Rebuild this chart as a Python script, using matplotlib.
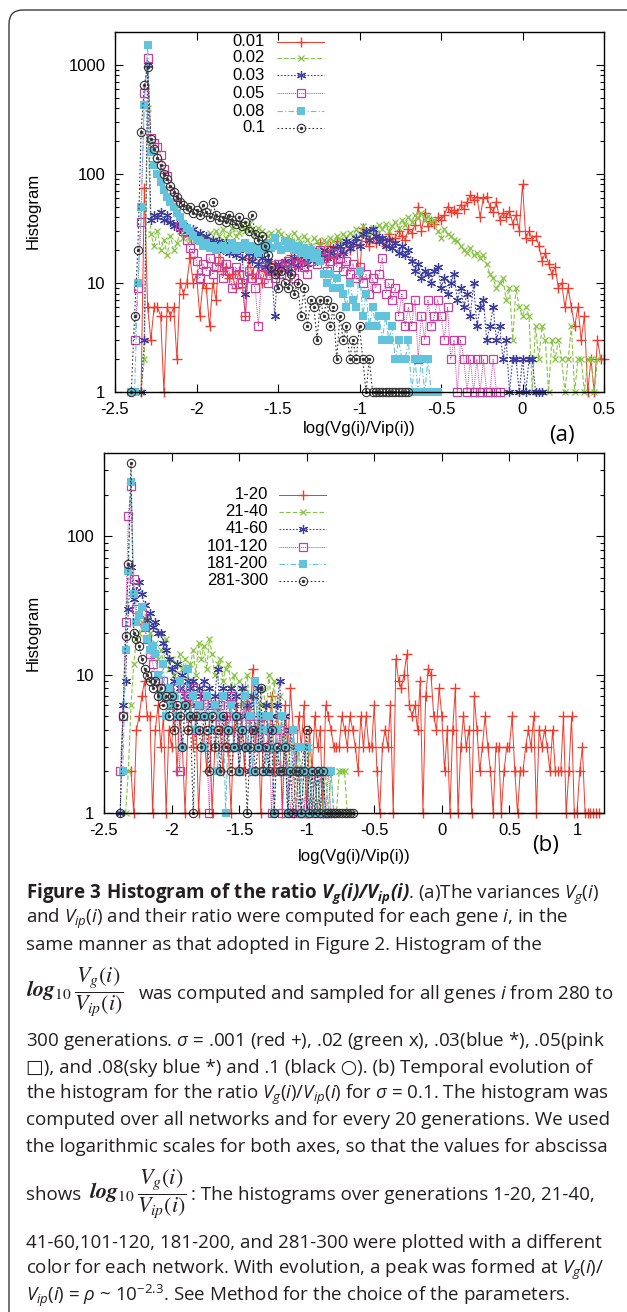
import numpy as np
import matplotlib.pyplot as plt
from matplotlib.patches import FancyBboxPatch
from matplotlib.ticker import LogLocator, NullFormatter

plt.rcParams.update({
    "font.family": ["Open Sans", "DejaVu Sans"],
    "mathtext.fontset": "custom",
    "mathtext.rm": "Open Sans",
    "mathtext.it": "Open Sans:italic",
    "mathtext.bf": "Open Sans:bold",
    "mathtext.bfit": "Open Sans:italic:bold",
    "axes.linewidth": 1.0,
})

W, H = 627, 1312
STEP = 0.02          # histogram bin width in log10 units
TXT = "#231f20"

# ---- panel (a): sigma values, last 20 generations ----
A_LABELS = ["0.01", "0.02", "0.03", "0.05", "0.08", "0.1"]
A_X0 = [-2.34, -2.34, -2.34, -2.38, -2.40, -2.40]
a_001 = [1, 75, 6, 3, 6, 6, 5, 1, 6, 5, 6, 2, 10, 8, 10, 17, 10, 12, 5, 10, 9, 4, 10, 7, 20,
         13, 14, 11, 12, 9, 13, 10, 5, 17, 12, 11, 14, 10, 13, 16, 12, 15, 13, 14, 16, 13, 18,
         15, 17, 20, 16, 18, 21, 17, 19, 23, 18, 20, 22, 17, 24, 21, 19, 23, 20, 22, 25, 11, 32,
         24, 22, 26, 23, 27, 25, 22, 28, 24, 26, 30, 27, 25, 31, 29, 34, 50, 30, 44, 33, 37, 35,
         40, 38, 42, 50, 45, 47, 44, 52, 48, 55, 64, 58, 62, 40, 60, 62, 50, 45, 55, 38, 44, 40,
         46, 35, 42, 30, 80, 26, 30, 25, 27, 22, 16, 19, 15, 12, 14, 9, 10, 6, 9, 6, 4, 6, 3, 5,
         1, 2, 1, 3, 2, 2]
a_002 = [1, 2, 400, 28, 22, 30, 20, 25, 18, 27, 20, 23, 30, 26, 28, 24, 27, 25, 28, 24, 26, 29,
         25, 30, 27, 31, 26, 28, 32, 27, 29, 33, 30, 35, 31, 28, 32, 30, 28, 27, 29, 26, 30, 28,
         25, 27, 24, 29, 26, 23, 27, 25, 22, 26, 24, 22, 25, 23, 26, 24, 27, 25, 28, 26, 29, 27,
         31, 28, 33, 30, 27, 32, 29, 34, 31, 35, 30, 33, 36, 32, 38, 34, 40, 36, 42, 39, 44, 38,
         41, 36, 38, 30, 26, 31, 28, 27, 25, 24, 22, 20, 19, 21, 18, 19, 17, 18, 15, 12, 11, 9,
         10, 11, 7, 9, 3, 9, 6, 5, 6, 5, 1, 4, 2, 4, 3, 1, 3, 2, 3, 2, 1, 2, 4, 1, 2, 2, 1, 2,
         2, 1, 2]
a_003 = [1, 3, 1000, 38, 42, 40, 45, 38, 42, 36, 33, 35, 31, 34, 30, 28, 31, 27, 29, 25, 27, 23,
         25, 22, 24, 20, 23, 19, 21, 18, 20, 17, 8, 19, 16, 18, 15, 17, 14, 16, 13, 5, 15, 14,
         16, 13, 15, 17, 14, 16, 18, 15, 17, 19, 16, 18, 20, 17, 19, 21, 18, 22, 19, 24, 21, 23,
         26, 22, 28, 30, 25, 31, 27, 24, 26, 22, 25, 21, 23, 19, 22, 18, 20, 16, 13, 15, 11, 13,
         12, 10, 13, 14, 9, 11, 8, 10, 12, 7, 9, 6, 8, 5, 10, 4, 6, 7, 3, 4, 6, 3, 4, 2, 3, 1,
         2, 2, 1, 2, 1, 2, 2, 1, 1, 1]
a_005 = [3, 9, 36, 550, 1150, 215, 190, 178, 150, 110, 95, 70, 62, 54, 33, 30, 25, 21, 19, 16,
         11, 15, 13, 17, 12, 14, 16, 11, 15, 13, 9, 14, 12, 10, 5, 13, 11, 9, 4, 12, 14, 10, 13,
         11, 15, 12, 14, 16, 13, 11, 15, 17, 14, 12, 16, 18, 15, 20, 17, 13, 16, 19, 14, 17, 13,
         16, 12, 15, 11, 14, 10, 12, 8, 11, 9, 12, 17, 8, 10, 7, 9, 5, 8, 4, 6, 4, 7, 2, 5, 3, 7,
         4, 5, 7, 5, 3, 6, 2, 3, 1, 3, 2, 1, 2, 1, 2, 1, 2, 1, 1, 2, 1, 1]
a_008 = [1, 1, 10, 50, 430, 1520, 160, 120, 100, 85, 71, 62, 55, 50, 44, 40, 35, 32, 30, 27, 25,
         24, 22, 23, 21, 22, 20, 21, 22, 20, 21, 23, 20, 22, 21, 23, 20, 22, 21, 19, 22, 20, 23,
         21, 26, 22, 20, 24, 21, 23, 20, 22, 19, 21, 18, 20, 17, 19, 16, 12, 10, 12, 9, 11, 9, 8,
         6, 10, 7, 6, 13, 5, 8, 4, 6, 4, 5, 3, 5, 3, 4, 2, 3, 2, 2, 3, 1, 2, 1, 2, 1, 2, 1, 1, 1]
a_010 = [1, 5, 20, 240, 650, 950, 210, 170, 140, 120, 100, 90, 78, 68, 62, 55, 52, 48, 50, 44,
         47, 42, 52, 45, 40, 55, 42, 38, 40, 36, 42, 38, 35, 40, 33, 36, 30, 42, 28, 25, 27, 22,
         18, 14, 12, 9, 13, 10, 9, 12, 8, 10, 5, 9, 4, 7, 6, 3, 7, 5, 7, 4, 6, 2, 5, 3, 4, 2, 3,
         2, 4, 2, 1, 2, 1, 1, 1, 1, 1, 1, 1, 1, 1, 1, 1, 1]
A_SERIES = [a_001, a_002, a_003, a_005, a_008, a_010]

# ---- panel (b): sigma = 0.1, generation windows ----
B_LABELS = ["1-20", "21-40", "41-60", "101-120", "181-200", "281-300"]
B_X0 = [-2.30, -2.34, -2.38, -2.38, -2.36, -2.38]
b_1_20 = [2, 1, 4, 5, 7, 9, 5, 5, 1, 4, 6, 3, 5, 1, 4, 3, 6, 2, 5, 3, 1, 4, 6, 3, 5, 1, 3, 4, 2,
          5, 1, 3, 6, 4, 2, 5, 3, 1, 4, 6, 3, 5, 2, 7, 4, 11, 3, 5, 1, 4, 6, 3, 7, 2, 5, 4, 1, 6,
          3, 8, 4, 2, 5, 3, 6, 1, 4, 2, 5, 3, 4, 1, 6, 5,
          4, 3, 3, 3, 5, 4, 3, 5, 4, 3, 2, 5, 3, 5, 3, 3, 6, 2, 1, 3, 4, 3, 6, 1, 13, 9, 8, 10,
          14, 6, 5, 6, 4, 9, 1, 7, 11, 10, 5, 4, 8, 5, 2, 4, 1, 4, 8, 1, 3, 5, 3, 4, 1, 7, 4, 2,
          3, 5, 3, 2, 1, 3, 3, 1, 2, 3, 3, 5, 2, 1, 2, 2, 3, 4, 3, 5, 1, 4, 3, 4, 3, 2, 4, 2, 2,
          2, 5, 1, 2, 5, 1, 1, 2, 3, 1, 1, 1, 1, 1, 1]
b_21_40 = [1, 2, 6, 12, 18, 20, 24, 22, 26, 20, 15, 17, 13, 15, 12, 18, 11, 13, 10, 12, 14, 11,
           13, 9, 12, 15, 10, 17, 13, 16, 11, 18, 14, 10, 12, 13, 9, 11, 12, 8, 10, 7, 9, 6, 8,
           10, 5, 7, 9, 4, 6, 8, 5, 10, 6, 9, 4, 7, 3, 5, 2, 4, 3, 1, 3, 2, 1, 2, 3, 1, 2, 1, 2,
           1, 2, 1, 2, 1, 1, 2, 2, 2, 1, 1, 1]
b_41_60 = [1, 6, 9, 30, 60, 35, 40, 47, 38, 32, 25, 28, 22, 24, 20, 20, 17, 15, 13, 11, 9, 12, 8,
           10, 7, 9, 8, 9, 6, 8, 7, 9, 5, 8, 6, 7, 11, 5, 8, 7, 4, 8, 6, 7, 3, 8, 5, 6, 2, 7, 4,
           8, 3, 5, 6, 2, 5, 4, 6, 9, 3, 5, 1, 4, 2, 3, 1, 2, 3, 1, 2, 1, 2, 1, 1, 2, 1, 1, 1, 1,
           1]
b_101_120 = [2, 5, 24, 140, 230, 49, 30, 25, 28, 22, 18, 14, 12, 10, 9, 8, 9, 7, 8, 6, 8, 5, 2,
             8, 6, 7, 5, 8, 4, 6, 5, 7, 3, 1, 6, 5, 4, 6, 3, 5, 4, 7, 3, 5, 2, 4, 6, 3, 5, 2, 4,
             3, 5, 2, 3, 4, 1, 3, 2, 4, 1, 3, 2, 1, 2, 1, 2, 1, 1, 2, 1, 1, 2, 1, 2, 1, 1, 2, 1]
b_181_200 = [2, 15, 56, 245, 38, 24, 27, 31, 22, 18, 15, 16, 14, 10, 7, 12, 5, 8, 6, 7, 5, 9, 3,
             6, 11, 5, 7, 4, 6, 5, 3, 7, 5, 4, 6, 2, 5, 7, 1, 4, 6, 3, 5, 2, 4, 7, 3, 5, 2, 9, 3,
             5, 4, 2, 5, 3, 1, 4, 2, 5, 3, 1, 2, 4, 2, 3, 1, 2, 3, 1, 2, 1, 2, 1, 2, 1, 1, 2, 1, 1]
b_281_300 = [1, 5, 19, 63, 338, 20, 18, 16, 13, 11, 10, 9, 8, 9, 7, 8, 6, 7, 5, 7, 4, 6, 5, 3, 6,
             4, 5, 1, 5, 4, 3, 5, 4, 2, 5, 3, 4, 2, 5, 3, 4, 2, 3, 5, 2, 4, 3, 1, 3, 4, 2, 3, 8, 2,
             3, 2, 4, 1, 3, 2, 2, 3, 1, 2, 1, 2, 2, 1, 2, 4, 1, 2, 1, 2, 1, 2, 1, 1, 1, 1, 1, 1, 1,
             1, 1, 1, 1]
B_SERIES = [b_1_20, b_21_40, b_41_60, b_101_120, b_181_200, b_281_300]

XTICKS_A = [-2.5, -2, -1.5, -1, -0.5, 0, 0.5]
XTICKS_B = [-2.5, -2, -1.5, -1, -0.5, 0, 0.5, 1]
XTICKLABELS_A = ["-2.5", "-2", "-1.5", "-1", "-0.5", "0", "0.5"]
XTICKLABELS_B = ["-2.5", "-2", "-1.5", "-1", "-0.5", "0", "0.5", "1"]
YTICKS_A = [1, 10, 100, 1000]
YTICKS_B = [1, 10, 100]

# gnuplot-like styles: line part and point part
STYLES = [
    dict(color="#ef3b2c", ls="-", lw=0.7, marker="+", ms=7, mew=1.0),
    dict(color="#86c443", ls=(0, (4, 2)), lw=0.8, marker="x", ms=5, mew=0.9),
    dict(color="#3d3d9e", ls=(0, (1.5, 1.5)), lw=0.8, marker=(6, 2, 0), ms=6.5, mew=0.9),
    dict(color="#c8409e", ls=(0, (1, 1)), lw=0.7, marker="s", ms=5.5, mfc="none", mew=0.9),
    dict(color="#62c3dc", ls=(0, (5, 2, 1, 2)), lw=0.8, marker="s", ms=5.5, mew=0),
    dict(color="#333333", ls=(0, (1.5, 2)), lw=0.8, marker="o", ms=6, mfc="none", mew=0.8),
]


def fx(px):
    return px / W


def fy(py):
    return 1 - py / H


fig = plt.figure(figsize=(W / 100, H / 100), dpi=100)

# rounded frame around the figure
fig.patches.append(FancyBboxPatch((0.09, -0.3), 6.6, 13.12 - 0.1 + 0.3,
                                  boxstyle="round,pad=0,rounding_size=0.14",
                                  transform=fig.dpi_scale_trans, fc="none",
                                  ec="#3a3a3a", lw=1.0))


def panel(box, series, x0s, labels, xlim, ylim, xt, xtl, yt, leg):
    l, t, r, b = box
    ax = fig.add_axes([fx(l), fy(b), (r - l) / W, (b - t) / H])
    ax.set_yscale("log")
    for ys, x0, st in zip(series, x0s, STYLES):
        x = x0 + STEP * np.arange(len(ys))
        ax.plot(x, ys, clip_on=False, **st)
        if st["marker"] == "o":
            ax.plot(x, ys, ls="none", marker="o", ms=1.4, color=st["color"], clip_on=False)
    ax.set_xlim(*xlim)
    ax.set_ylim(*ylim)
    ax.set_xticks(xt)
    ax.set_xticklabels(xtl)
    ax.set_yticks(yt)
    ax.set_yticklabels([str(v) for v in yt])
    ax.yaxis.set_minor_locator(LogLocator(base=10, subs=np.arange(2, 10)))
    ax.yaxis.set_minor_formatter(NullFormatter())
    ax.tick_params(which="both", direction="in", top=True, right=True, width=0.8)
    ax.tick_params(which="major", length=6, labelsize=12, pad=7)
    ax.tick_params(which="minor", length=3)
    for lab in ax.get_xticklabels() + ax.get_yticklabels():
        lab.set_fontfamily("Liberation Sans")
    # key, gnuplot style: right-justified text then sample
    tx, lx1, lx2, rows = leg
    for lab, st, ry in zip(labels, STYLES, rows):
        yy = (b - ry) / (b - t)
        ax.text((tx - l) / (r - l), yy, lab, transform=ax.transAxes, ha="right",
                va="center", fontsize=12, family="Liberation Sans", color="black")
        line_st = {k: v for k, v in st.items() if k in ("color", "ls", "lw")}
        ax.plot([(lx1 - l) / (r - l), (lx2 - l) / (r - l)], [yy, yy],
                transform=ax.transAxes, clip_on=False, **line_st)
        mk = {k: v for k, v in st.items() if k not in ("ls", "lw")}
        xm = ((lx1 + lx2) / 2 - l) / (r - l)
        ax.plot([xm], [yy], transform=ax.transAxes, ls="none", clip_on=False, **mk)
        if st["marker"] == "o":
            ax.plot([xm], [yy], transform=ax.transAxes, ls="none", marker="o", ms=1.4,
                    color=st["color"], clip_on=False)
    return ax


panel((115, 32, 604, 392), A_SERIES, A_X0, A_LABELS, (-2.5, 0.5), (1, 2000),
      XTICKS_A, XTICKLABELS_A, YTICKS_A,
      (265, 277, 324, [42, 58, 75, 93, 111, 128]))
panel((104, 453, 604, 813), B_SERIES, B_X0, B_LABELS, (-2.5, 1.2), (1, 400),
      XTICKS_B, XTICKLABELS_B, YTICKS_B,
      (268, 279, 326, [495, 512, 529, 547, 564, 581]))

for cy in (211, 633):
    fig.text(fx(33), fy(cy), "Histogram", rotation=90, ha="center", va="center",
             fontsize=12, family="Liberation Sans")
fig.text(fx(359), fy(428), "log(Vg(i)/Vip(i))", ha="center", va="center", fontsize=12,
         family="Liberation Sans")
fig.text(fx(354), fy(856), "log(Vg(i)/Vip(i))", ha="center", va="center", fontsize=12,
         family="Liberation Sans")
fig.text(fx(562), fy(435), "(a)", ha="center", va="center", fontsize=16)
fig.text(fx(546), fy(845), "(b)", ha="center", va="center", fontsize=16)

# ---- caption ----
CAP_X = 26
lines = [
    (898, r"$\mathbf{Figure\ 3\ Histogram\ of\ the\ ratio}\ \mathbfit{V_g(i)/V_{ip}(i)}$. (a)The variances $V_g(i)$"),
    (923, r"and $V_{ip}(i)$ and their ratio were computed for each gene $i$, in the"),
    (950, "same manner as that adopted in Figure 2. Histogram of the"),
    (1046, r"300 generations. $\sigma$ = .001 (red +), .02 (green x), .03(blue *), .05(pink"),
    (1073, "\u25a1), and .08(sky blue *) and .1 (black \u25cb). (b) Temporal evolution of"),
    (1099, r"the histogram for the ratio $V_g(i)/V_{ip}(i)$ for $\sigma$ = 0.1. The histogram was"),
    (1125, "computed over all networks and for every 20 generations. We used"),
    (1152, "the logarithmic scales for both axes, so that the values for abscissa"),
    (1248, "41-60,101-120, 181-200, and 281-300 were plotted with a different"),
    (1274, r"color for each network. With evolution, a peak was formed at $V_g(i)$/"),
    (1301, r"$V_{ip}(i)$ = $\rho$ ~ 10$^{-2.3}$. See Method for the choice of the parameters."),
]

# pick one caption size so the reference's full-width line fits its width
renderer = fig.canvas.get_renderer()
probe = fig.text(0, 0, lines[6][1], fontsize=10)
fs = 10 * 583 / probe.get_window_extent(renderer=renderer).width
probe.remove()

for py, s in lines:
    fig.text(fx(CAP_X), fy(py), s, ha="left", va="baseline", fontsize=fs, color=TXT)

FRAC = r"$\mathbfit{log}_{10}\,\dfrac{V_g(i)}{V_{ip}(i)}$"
fig.text(fx(CAP_X), fy(992), FRAC, ha="left", va="center", fontsize=16,
         math_fontfamily="stix", color=TXT)
fig.text(fx(138), fy(999), "was computed and sampled for all genes $i$ from 280 to",
         ha="left", va="baseline", fontsize=fs, color=TXT)
fig.text(fx(CAP_X), fy(1200), "shows", ha="left", va="baseline", fontsize=fs, color=TXT)
fig.text(fx(89), fy(1194), FRAC, ha="left", va="center", fontsize=16,
         math_fontfamily="stix", color=TXT)
fig.text(fx(191), fy(1200), ": The histograms over generations 1-20, 21-40,",
         ha="left", va="baseline", fontsize=fs, color=TXT)

fig.savefig("out.png", dpi=100, facecolor="white")
